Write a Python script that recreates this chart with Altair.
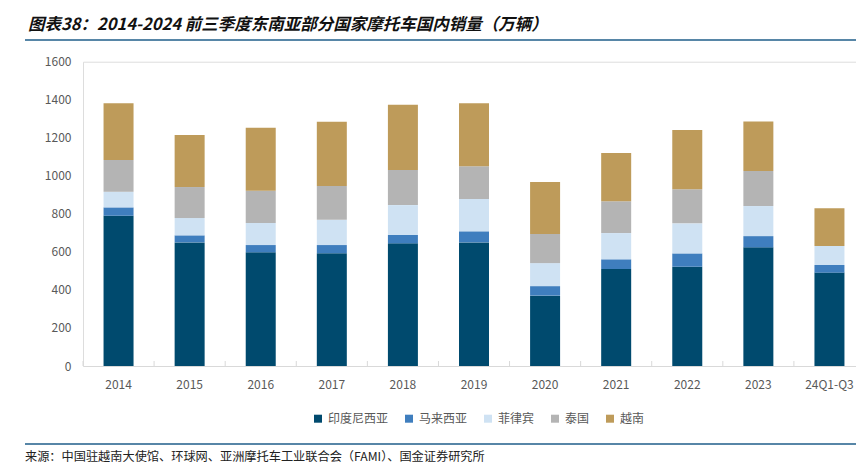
import altair as alt
import pandas as pd

categories = ["2014", "2015", "2016", "2017", "2018", "2019", "2020", "2021", "2022", "2023", "24Q1-Q3"]
countries = ["印度尼西亚", "马来西亚", "菲律宾", "泰国", "越南"]
colors = ["#004A6E", "#3F7EBE", "#CFE2F3", "#B4B4B4", "#BE9B5A"]

indonesia = [790, 650, 598, 593, 645, 650, 370, 510, 522, 624, 491]
malaysia = [44, 37, 38, 43, 44, 58, 50, 51, 70, 59, 40]
philippines = [82, 91, 116, 133, 157, 170, 121, 138, 158, 158, 100]
thailand = [167, 163, 170, 177, 184, 172, 153, 167, 179, 184, None]
vietnam = [298, 274, 331, 338, 344, 331, 273, 254, 312, 260, 198]

title_text = "图表38：2014-2024 前三季度东南亚部分国家摩托车国内销量（万辆）"
source_text = "来源：中国驻越南大使馆、环球网、亚洲摩托车工业联合会（FAMI）、国金证券研究所"

series = [indonesia, malaysia, philippines, thailand, vietnam]
rows = []
for ci, (name, vals) in enumerate(zip(countries, series)):
    for cat, v in zip(categories, vals):
        if v is not None:
            rows.append({"cat": cat, "country": name, "idx": ci, "value": v})
df = pd.DataFrame(rows)
cat_df = pd.DataFrame({"cat": categories})

W = 773
BAND_RANGE = 782
H = 304.3
FONT = "Noto Sans CJK SC"

bars = alt.Chart(df).mark_bar(size=30).encode(
    x=alt.X("cat:N", sort=categories,
            scale=alt.Scale(paddingInner=0, paddingOuter=0, range=[0, BAND_RANGE]),
            axis=alt.Axis(title=None, labelAngle=0, ticks=False, domainColor="#D9D9D9",
                          domainWidth=1.2, labelPadding=13, labelColor="#595959",
                          labelFontSize=12, labelFont=FONT)),
    y=alt.Y("value:Q", stack="zero", scale=alt.Scale(domain=[0, 1600], nice=False),
            axis=alt.Axis(title=None, values=list(range(0, 1601, 200)), format="d",
                          grid=False, domain=False, ticks=False, labelPadding=12,
                          labelColor="#595959", labelFontSize=12, labelFont=FONT)),
    color=alt.Color("country:N", sort=countries,
                    scale=alt.Scale(domain=countries, range=colors),
                    legend=alt.Legend(title=None, orient="none", direction="horizontal",
                                      legendX=229, legendY=351, symbolType="square",
                                      symbolSize=64, symbolStrokeWidth=0, labelFontSize=12,
                                      labelColor="#595959", labelFont=FONT,
                                      columnPadding=14, labelOffset=4)),
    order=alt.Order("idx:Q", sort="ascending"),
)

ticks = alt.Chart(cat_df).mark_rule(color="#D9D9D9", strokeWidth=1).encode(
    x=alt.X("cat:N", sort=categories, bandPosition=0),
    y=alt.value(H - 5),
    y2=alt.value(H),
)

one = pd.DataFrame({"k": [0]})

title = alt.Chart(one).mark_text(align="left", baseline="middle", fontSize=16.5,
                                 fontWeight="bold", fontStyle="italic", font=FONT,
                                 color="#111111").encode(
    x=alt.value(-55), y=alt.value(-36.7), text=alt.value(title_text))

top_line = alt.Chart(one).mark_rule(color="#1F5E8A", strokeWidth=1.6).encode(
    x=alt.value(-58), x2=alt.value(900), y=alt.value(-21.7))

bottom_line = alt.Chart(one).mark_rule(color="#1F5E8A", strokeWidth=1.4).encode(
    x=alt.value(-58), x2=alt.value(900), y=alt.value(382.3))

source = alt.Chart(one).mark_text(align="left", baseline="middle", fontSize=12.2,
                                  font=FONT, color="#222222").encode(
    x=alt.value(-58), y=alt.value(395.3), text=alt.value(source_text))

chart = alt.layer(bars, ticks, title, top_line, bottom_line, source).properties(
    width=W, height=H,
    autosize=alt.AutoSizeParams(type="none"),
    padding={"left": 75, "top": 53.7, "right": 0, "bottom": 104},
).configure_view(stroke=None).configure(font=FONT, background="white")

chart.save("out.html", embed_options={"renderer": "svg", "actions": False})
